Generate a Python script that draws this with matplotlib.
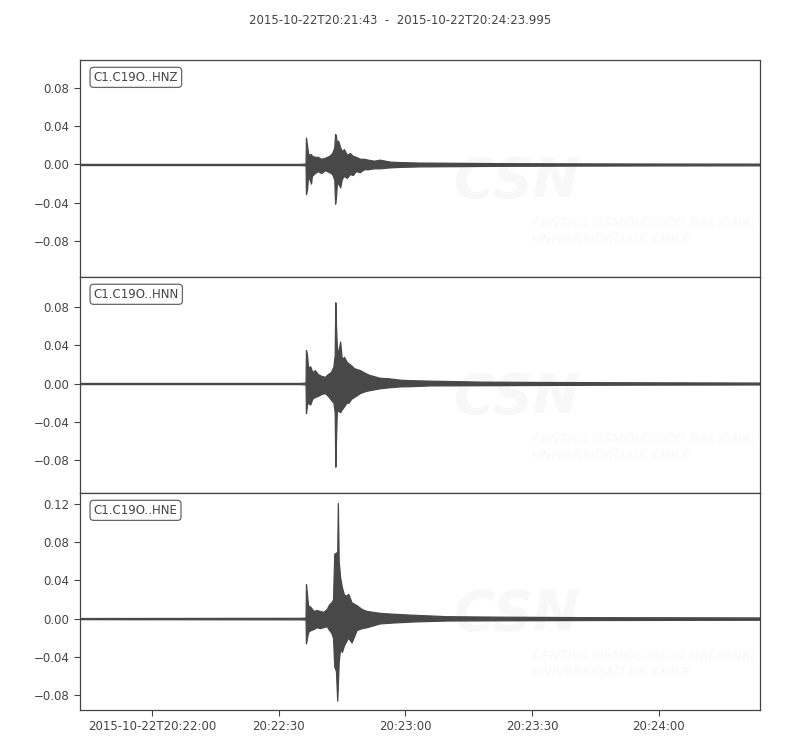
import matplotlib
matplotlib.use("Agg")
import matplotlib.pyplot as plt
from matplotlib.ticker import FixedLocator, FuncFormatter

plt.rcParams['font.family'] = ['DejaVu Sans']

# ---------------- data (seconds after 2015-10-22T20:21:43) ----------------
title_text = "2015-10-22T20:21:43  -  2015-10-22T20:24:23.995"
trace_labels = ["C1.C19O..HNZ", "C1.C19O..HNN", "C1.C19O..HNE"]
t_end = 160.995

hnz_t = [0.0, 52.1, 53.4, 53.5, 53.75, 54.0, 54.2, 54.7, 54.9, 55.6, 56.3, 57.1, 58.0, 59.0,
         59.7, 60.2, 60.4, 60.6, 60.8, 61.1, 61.6, 62.0, 62.5, 63.2, 63.9, 64.6, 65.3, 66.3,
         67.2, 68.2, 69.6, 71.0, 73.4, 75.8, 80.5, 87.6, 99.4, 113.6, 135.0, 160.995]
hnz_up = [0.0006, 0.0006, 0.001, 0.028, 0.020, 0.012, 0.010, 0.011, 0.009, 0.008, 0.008, 0.006,
          0.007, 0.009, 0.012, 0.018, 0.032, 0.030, 0.022, 0.025, 0.018, 0.014, 0.016, 0.010,
          0.012, 0.009, 0.008, 0.006, 0.006, 0.005, 0.004, 0.005, 0.003, 0.0025, 0.002, 0.0018,
          0.0014, 0.0012, 0.001, 0.0009]
hnz_lo = [-0.0006, -0.0006, -0.001, -0.031, -0.026, -0.012, -0.014, -0.020, -0.012, -0.009,
          -0.007, -0.009, -0.006, -0.008, -0.010, -0.016, -0.041, -0.034, -0.022, -0.019,
          -0.024, -0.015, -0.012, -0.014, -0.010, -0.011, -0.007, -0.008, -0.005, -0.005,
          -0.004, -0.004, -0.003, -0.0025, -0.002, -0.0018, -0.0014, -0.0012, -0.001, -0.0009]

hnn_t = [0.0, 52.1, 53.4, 53.5, 53.75, 54.0, 54.5, 55.0, 55.6, 56.3, 57.1, 58.0, 58.7, 59.4,
         60.0, 60.3, 60.45, 60.6, 60.8, 61.0, 61.6, 62.0, 62.5, 63.1, 63.6, 64.2, 64.9, 65.6,
         66.3, 67.5, 68.5, 71.0, 73.0, 75.8, 78.0, 82.9, 94.7, 110.0, 130.0, 160.995]
hnn_up = [0.0006, 0.0006, 0.001, 0.035, 0.030, 0.017, 0.018, 0.012, 0.014, 0.010, 0.008,
          0.007, 0.010, 0.012, 0.018, 0.030, 0.085, 0.062, 0.040, 0.030, 0.044, 0.025, 0.028,
          0.023, 0.021, 0.019, 0.016, 0.015, 0.014, 0.011, 0.009, 0.006, 0.0055, 0.004, 0.0035,
          0.003, 0.002, 0.0016, 0.0013, 0.001]
hnn_lo = [-0.0006, -0.0006, -0.001, -0.031, -0.022, -0.020, -0.022, -0.016, -0.014, -0.013,
          -0.011, -0.010, -0.013, -0.017, -0.020, -0.030, -0.087, -0.060, -0.030, -0.028,
          -0.030, -0.027, -0.024, -0.020, -0.020, -0.016, -0.014, -0.012, -0.010, -0.008,
          -0.007, -0.005, -0.004, -0.003, -0.0028, -0.002, -0.0018, -0.0015, -0.0012, -0.001]

hne_t = [0.0, 52.1, 53.4, 53.5, 53.75, 54.0, 54.6, 55.3, 56.0, 56.8, 57.6, 58.4, 59.0, 59.5,
         59.9, 60.2, 60.6, 60.9, 61.05, 61.25, 61.6, 62.0, 62.5, 63.1, 63.5, 64.3, 65.5, 66.7,
         67.9, 71.0, 74.5, 78.9, 86.8, 100.0, 120.0, 160.995]
hne_up = [0.0006, 0.0008, 0.001, 0.036, 0.025, 0.014, 0.012, 0.008, 0.009, 0.008, 0.007,
          0.010, 0.015, 0.017, 0.020, 0.068, 0.069, 0.070, 0.121, 0.060, 0.043, 0.033, 0.025,
          0.024, 0.026, 0.017, 0.014, 0.010, 0.008, 0.006, 0.005, 0.004, 0.0025, 0.002,
          0.0015, 0.0012]
hne_lo = [-0.0006, -0.0008, -0.001, -0.026, -0.020, -0.014, -0.012, -0.011, -0.009, -0.010,
          -0.009, -0.008, -0.012, -0.015, -0.020, -0.050, -0.055, -0.086, -0.070, -0.045,
          -0.031, -0.035, -0.028, -0.023, -0.020, -0.025, -0.012, -0.010, -0.009, -0.005,
          -0.004, -0.003, -0.002, -0.0018, -0.0015, -0.0012]

ylims = [(-0.1177, 0.1093), (-0.1145, 0.1114), (-0.0957, 0.1315)]
yticks = [[-0.08, -0.04, 0.0, 0.04, 0.08],
          [-0.08, -0.04, 0.0, 0.04, 0.08],
          [-0.08, -0.04, 0.0, 0.04, 0.08, 0.12]]

xtick_secs = [17, 47, 77, 107, 137]
xtick_labels = ["2015-10-22T20:22:00", "20:22:30", "20:23:00", "20:23:30", "20:24:00"]

# ---------------- plotting ----------------
wave_color = '#484848'
text_color = '#444444'
spine_color = '#444444'
mark_color = '#f8f8f8'

fig = plt.figure(figsize=(8, 7.5), dpi=100)
fig.text(0.5, 1 - 20 / 750, title_text, ha='center', va='center',
         fontsize=8.5, color=text_color)

series = [(hnz_t, hnz_up, hnz_lo), (hnn_t, hnn_up, hnn_lo), (hne_t, hne_up, hne_lo)]
bottoms = [1 - 277 / 750, 1 - 493 / 750, 1 - 710 / 750]
heights = [217 / 750, 216 / 750, 217 / 750]

axes = []
for i, ((t, up, lo), lab) in enumerate(zip(series, trace_labels)):
    ax = fig.add_axes([0.1, bottoms[i], 0.85, heights[i]])
    axes.append(ax)
    # faint watermark
    ax.text(0.55, 0.44, "CSN", transform=ax.transAxes, fontsize=40, fontweight='bold',
            fontstyle='italic', color=mark_color, ha='left', va='center', zorder=0,
            clip_on=True)
    ax.text(0.665, 0.21, "CENTRO SISMOLÓGICO NACIONAL\nUNIVERSIDAD DE CHILE",
            transform=ax.transAxes, fontsize=9.5, fontstyle='italic', color=mark_color,
            ha='left', va='center', zorder=0, linespacing=1.3, clip_on=True)
    ax.fill_between(t, lo, up, color=wave_color, linewidth=0.9, edgecolor=wave_color, zorder=2)
    ax.set_xlim(0, t_end)
    ax.set_ylim(*ylims[i])
    ax.yaxis.set_major_locator(FixedLocator(yticks[i]))
    ax.yaxis.set_major_formatter(FuncFormatter(lambda v, p: f"{v:.2f}".replace('-', '\u2212')))
    ax.xaxis.set_major_locator(FixedLocator(xtick_secs))
    if i < 2:
        ax.tick_params(axis='x', bottom=False, labelbottom=False)
    else:
        ax.set_xticklabels(xtick_labels)
    ax.tick_params(axis='both', labelsize=8.5, colors=spine_color, labelcolor=text_color,
                   length=4, width=0.8, direction='out')
    for s in ax.spines.values():
        s.set_color(spine_color)
        s.set_linewidth(0.9)
    ax.text(0.02, 0.95, lab, transform=ax.transAxes, ha='left', va='top',
            fontsize=8.5, color=text_color, zorder=5,
            bbox=dict(boxstyle='round,pad=0.3', fc='white', ec='#555555', lw=0.9, alpha=0.9))

fig.savefig("out.png", dpi=100)
